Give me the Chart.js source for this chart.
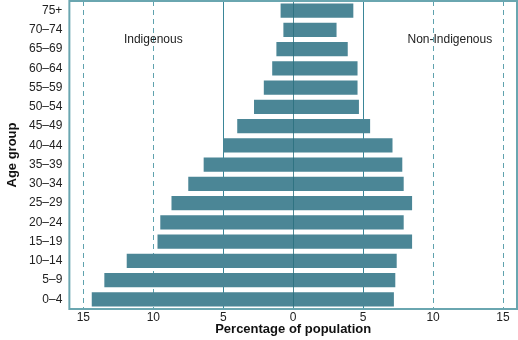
<!DOCTYPE html>
<html>
<head>
<meta charset="utf-8">
<script src="https://cdn.jsdelivr.net/npm/chart.js@4"></script>
<style>
  html, body { margin: 0; padding: 0; background: #fff; }
  #wrap { width: 518px; height: 340px; }
</style>
</head>
<body>
<div id="wrap"><canvas id="pyramid"></canvas></div>
<script>
  // age groups, top to bottom
  const ageGroups = ["75+", "70–74", "65–69", "60–64", "55–59", "50–54", "45–49", "40–44",
                     "35–39", "30–34", "25–29", "20–24", "15–19", "10–14", "5–9", "0–4"];
  // percentage of population
  const indigenous    = [0.9, 0.7, 1.2, 1.5, 2.1, 2.8, 4.0, 5.0, 6.4, 7.5, 8.7, 9.5, 9.7, 11.9, 13.5, 14.4];
  const nonIndigenous = [4.3, 3.1, 3.9, 4.6, 4.6, 4.7, 5.5, 7.1, 7.8, 7.9, 8.5, 7.9, 8.5, 7.4, 7.3, 7.2];
  const xTicks = [-15, -10, -5, 0, 5, 10, 15];

  const barColor = "#4b8696";
  const lineColor = "#3a8698";
  const font = "'Liberation Sans', Arial, sans-serif";

  const frame = {
    id: "frame",
    beforeDatasetsDraw(chart) {
      const { ctx, chartArea: a, scales } = chart;
      const x = scales.x;
      ctx.save();
      ctx.lineWidth = 1;
      xTicks.forEach(function (v) {
        if (v === 0) return;
        const px = Math.round(x.getPixelForValue(v)) + 0.5;
        ctx.strokeStyle = Math.abs(v) === 5 ? lineColor : "#5fa2ae";
        ctx.setLineDash(Math.abs(v) === 5 ? [] : [5, 4]);
        ctx.beginPath();
        ctx.moveTo(px, a.top);
        ctx.lineTo(px, a.bottom);
        ctx.stroke();
      });
      ctx.restore();
    },
    afterDatasetsDraw(chart) {
      const { ctx, chartArea: a, scales } = chart;
      const x = scales.x, y = scales.y;
      ctx.save();
      // zero line over the bars
      const px0 = Math.round(x.getPixelForValue(0)) + 0.5;
      ctx.strokeStyle = "rgba(40,110,125,0.8)";
      ctx.lineWidth = 1;
      ctx.beginPath();
      ctx.moveTo(px0, a.top);
      ctx.lineTo(px0, a.bottom);
      ctx.stroke();
      // frame
      ctx.strokeStyle = "#6aa6b0";
      ctx.lineWidth = 2;
      ctx.strokeRect(a.left, a.top, a.right - a.left, a.bottom - a.top);
      // side labels
      const yl = (y.getPixelForValue(1) + y.getPixelForValue(2)) / 2;
      ctx.fillStyle = "#222";
      ctx.font = "12px " + font;
      ctx.textAlign = "center";
      ctx.textBaseline = "middle";
      ctx.fillText("Indigenous", x.getPixelForValue(-10), yl);
      ctx.fillText("Non-Indigenous", x.getPixelForValue(11.2), yl);
      ctx.restore();
    }
  };

  new Chart(document.getElementById("pyramid").getContext("2d"), {
    type: "bar",
    data: {
      labels: ageGroups,
      datasets: [
        {
          data: ageGroups.map((_, i) => [-indigenous[i], nonIndigenous[i]]),
          backgroundColor: barColor,
          borderWidth: 0,
          barPercentage: 0.73,
          categoryPercentage: 1,
        },
      ],
    },
    options: {
      indexAxis: "y",
      responsive: true,
      maintainAspectRatio: false,
      animation: false,
      layout: { padding: { top: 1, right: 1, left: 0, bottom: 0 } },
      plugins: { legend: { display: false }, tooltip: { enabled: false } },
      scales: {
        x: {
          min: -16,
          max: 16,
          afterBuildTicks(scale) {
            scale.ticks = xTicks.map((v) => ({ value: v }));
          },
          grid: { display: false, drawTicks: false },
          border: { display: false },
          ticks: {
            padding: 3,
            color: "#222",
            font: { family: font, size: 12, lineHeight: 1 },
            callback: (v) => Math.abs(v),
          },
          title: {
            display: true,
            text: "Percentage of population",
            color: "#111",
            font: { family: font, size: 13, weight: "bold", lineHeight: 1 },
            padding: { top: -4, bottom: 4 },
          },
        },
        y: {
          afterFit(scale) {
            scale.paddingTop = 0;
            scale.paddingBottom = 0;
          },
          grid: { display: false, drawTicks: false },
          border: { display: false },
          ticks: {
            padding: 7,
            color: "#222",
            font: { family: font, size: 12 },
            autoSkip: false,
          },
          title: {
            display: true,
            text: "Age group",
            color: "#111",
            font: { family: font, size: 13, weight: "bold", lineHeight: 1 },
            padding: { top: 6, bottom: 3 },
          },
        },
      },
    },
    plugins: [frame],
  });
</script>
</body>
</html>
